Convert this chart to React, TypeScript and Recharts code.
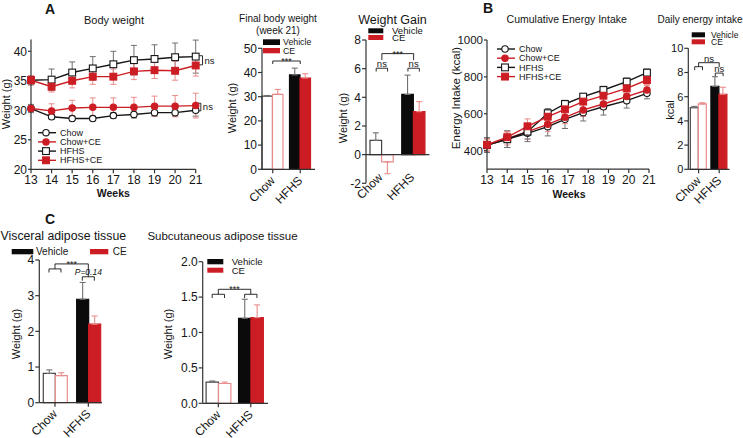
import React from 'react';
import {
  LineChart, Line, BarChart, Bar, Cell, XAxis, YAxis, ErrorBar, ReferenceLine, Legend,
} from 'recharts';

const W = 743;
const H = 438;
const YW = 30;
const FONT = '"Liberation Sans", Arial, Helvetica, sans-serif';
const INK = '#151515';
const AXIS = '#333';
const BLACK = '#0b0b0b';
const RED = '#cc1d24';
const PINK = '#ea8c8c';
const GREY = '#707070';

// ---- A: body weight over time ----
const weeks = [13, 14, 15, 16, 17, 18, 19, 20, 21];
const bwChow = [30.3, 28.9, 28.6, 28.6, 29.1, 29.3, 29.6, 29.6, 30.0];
const bwChowErr = [0.7, 0.4, 0.4, 0.4, 0.5, 0.6, 0.6, 0.6, 1.0];
const bwChowCE = [30.3, 29.9, 30.4, 30.5, 30.5, 30.5, 30.7, 30.7, 30.8];
const bwChowCEErr = [0.5, 1.2, 1.3, 1.6, 1.6, 1.7, 1.7, 1.8, 2.1];
const bwHfhs = [35.1, 35.2, 36.4, 37.1, 37.8, 38.5, 38.7, 39.0, 39.1];
const bwHfhsErr = [0.8, 1.8, 1.8, 2.0, 2.2, 2.5, 2.4, 2.4, 2.8];
const bwHfhsCE = [35.1, 34.0, 35.0, 35.7, 35.7, 36.6, 36.8, 36.7, 37.6];
const bwHfhsCEErr = [0.8, 0.9, 1.2, 1.3, 1.3, 1.4, 1.4, 1.6, 1.8];

// ---- B: cumulative energy intake ----
const eiWeeks = [13, 14, 15, 16, 16.85, 17.75, 18.75, 19.9, 20.9];
const eiChow = [430, 462, 494, 530, 570, 606, 638, 671, 711];
const eiChowErr = [40, 45, 45, 50, 50, 45, 45, 40, 30];
const eiChowCE = [430, 466, 503, 543, 581, 621, 653, 693, 729];
const eiChowCEErr = [35, 35, 40, 40, 35, 35, 30, 25, 25];
const eiHfhs = [430, 462, 503, 603, 653, 693, 729, 774, 823];
const eiHfhsErr = [40, 45, 40, 25, 20, 15, 20, 20, 20];
const eiHfhsCE = [432, 473, 532, 584, 624, 666, 698, 738, 783];
const eiHfhsCEErr = [30, 30, 40, 35, 30, 35, 35, 30, 25];

// ---- bar panels (Chow, HFHS) x (Vehicle, CE) ----
const groups = ['Chow', 'HFHS'];
const finalVeh = [30.2, 39.0];
const finalVehErr = [0.3, 2.8];
const finalCE = [31.0, 37.7];
const finalCEErr = [2.0, 1.8];
const gainVeh = [1.0, 4.2];
const gainVehErr = [0.52, 1.35];
const gainCE = [-0.5, 3.0];
const gainCEErr = [0.83, 0.7];
const dailyVeh = [5.1, 6.85];
const dailyVehErr = [0.1, 0.8];
const dailyCE = [5.4, 6.2];
const dailyCEErr = [0.1, 0.58];
const viscVeh = [0.82, 2.9];
const viscVehErr = [0.1, 0.47];
const viscCE = [0.76, 2.2];
const viscCEErr = [0.08, 0.23];
const subVeh = [0.3, 1.2];
const subVehErr = [0.015, 0.27];
const subCE = [0.28, 1.21];
const subCEErr = [0.02, 0.18];

const lineNames = ['Chow', 'Chow+CE', 'HFHS', 'HFHS+CE'];
const lineKeys = ['chow', 'chowCE', 'hfhs', 'hfhsCE'];
const lineColors = [INK, RED, INK, RED];
const errColors = [GREY, PINK, GREY, PINK];
const lineShapes = ['circle', 'circle', 'square', 'square'];
const lineOpen = [true, false, true, false];

const bwRows = weeks.map((w, i) => ({
  week: w,
  chow: bwChow[i], chowErr: bwChowErr[i],
  chowCE: bwChowCE[i], chowCEErr: bwChowCEErr[i],
  hfhs: bwHfhs[i], hfhsErr: bwHfhsErr[i],
  hfhsCE: bwHfhsCE[i], hfhsCEErr: bwHfhsCEErr[i],
}));

const eiRows = eiWeeks.map((w, i) => ({
  week: w,
  chow: eiChow[i], chowErr: eiChowErr[i],
  chowCE: eiChowCE[i], chowCEErr: eiChowCEErr[i],
  hfhs: eiHfhs[i], hfhsErr: eiHfhsErr[i],
  hfhsCE: eiHfhsCE[i], hfhsCEErr: eiHfhsCEErr[i],
}));

// one-sided error in the direction of the bar
const side = (v: number, e: number) => (v >= 0 ? [0, e] : [e, 0]);
const barRows = (veh: number[], vehErr: number[], ce: number[], ceErr: number[]) =>
  groups.map((g, i) => ({
    group: g,
    pos: i,
    veh: veh[i], vehErr: side(veh[i], vehErr[i]),
    ce: ce[i], ceErr: side(ce[i], ceErr[i]),
  }));

const place = (x0: number, y0: number, x1: number, y1: number, xH = 30) => ({
  top: y0, left: x0 - YW, right: W - x1, bottom: H - y1 - xH,
});

const abs: React.CSSProperties = { position: 'absolute', left: 0, top: 0 };

const markerShape = (shape: string, open: boolean, color: string, cx: number, cy: number, key?: any) => {
  const fill = open ? '#fff' : color;
  return shape === 'circle'
    ? <circle key={key} cx={cx} cy={cy} r={3.2} fill={fill} stroke={color} strokeWidth={1.1} />
    : <rect key={key} x={cx - 3.4} y={cy - 3.4} width={6.8} height={6.8} fill={fill} stroke={color} strokeWidth={1.1} />;
};

const dotFn = (i: number) => (p: any) => {
  if (p.cx == null || p.cy == null) return <g key={p.index} />;
  return markerShape(lineShapes[i], lineOpen[i], lineColors[i], p.cx, p.cy, p.index);
};

const lineLegend = (x: number, y: number) => () => (
  <svg width={W} height={H} style={{ display: 'block' }}>
    {lineNames.map((n, i) => {
      const cy = y + i * 9.2;
      return (
        <g key={n}>
          <line x1={x} x2={x + 18} y1={cy} y2={cy} stroke={lineColors[i]} strokeWidth={1.4} />
          {markerShape(lineShapes[i], lineOpen[i], lineColors[i], x + 8, cy)}
          <text x={x + 22} y={cy} dy="0.35em" fontSize={9} fill={INK}>{n}</text>
        </g>
      );
    })}
  </svg>
);

type LegItem = { x: number; y: number; w: number; h: number; fill: string; label: string; tx: number; ty: number };
const barLegend = (items: LegItem[], fs: number) => () => (
  <svg width={W} height={H} style={{ display: 'block' }}>
    {items.map((it) => (
      <g key={it.label}>
        <rect x={it.x} y={it.y} width={it.w} height={it.h} fill={it.fill} />
        <text x={it.tx} y={it.ty} dy="0.35em" fontSize={fs} fill={INK}>{it.label}</text>
      </g>
    ))}
  </svg>
);

const legendWrap: React.CSSProperties = { left: 0, top: 0, width: W, height: H, pointerEvents: 'none' };

const seg = (k: string, xa: number, ya: number, xb: number, yb: number, xAxisId: any, label?: any) => (
  <ReferenceLine
    key={k}
    xAxisId={xAxisId}
    segment={[{ x: xa, y: ya }, { x: xb, y: yb }]}
    stroke={INK}
    strokeWidth={0.9}
    ifOverflow="visible"
    label={label}
  />
);

const stars = { value: '***', position: 'top', offset: -3, fontSize: 9, fill: INK };
const ns = { value: 'ns', position: 'top', offset: 1, fontSize: 9.5, fill: INK };

const bracket = (k: string, xa: number, xb: number, y: number, yl: number, yr: number, label?: any) => [
  seg(k + 'h', xa, y, xb, y, 'n', label),
  seg(k + 'l', xa, y, xa, yl, 'n'),
  seg(k + 'r', xb, y, xb, yr, 'n'),
];

const sideBracket = (k: string, xa: number, xb: number, ya: number, yb: number) => [
  seg(k + 'a', xa, ya, xb, ya, 0),
  seg(k + 'b', xa, yb, xb, yb, 0),
  seg(k + 'v', xb, ya, xb, yb, 0, { value: 'ns', position: 'right', offset: 2, fontSize: 9.5, fill: INK }),
];

const slantTick = (dx: number, dy: number) => (p: any) => (
  <g transform={`translate(${p.x + dx},${p.y + dy}) rotate(-45)`}>
    <text textAnchor="end" fontSize={12} fill={INK}>{p.payload.value}</text>
  </g>
);

function LinePanel({ rows, box, xH, yDomain, yTicks, tickFont, legend, notes }: any) {
  const [x0, y0, x1, y1] = box;
  return (
    <div style={abs}>
      <LineChart width={W} height={H} data={rows} margin={place(x0, y0, x1, y1, xH)}>
        <XAxis dataKey="week" type="number" domain={[13, 21]} ticks={weeks} interval={0}
          stroke={AXIS} strokeWidth={1.2} tickSize={4} tick={{ fontSize: 12, fill: INK }} height={xH} />
        <YAxis type="number" domain={yDomain} ticks={yTicks} interval={0} width={YW}
          stroke={AXIS} strokeWidth={1.2} tickSize={3} tickMargin={1} tick={{ fontSize: tickFont, fill: INK }} />
        {lineKeys.map((k, i) => (
          <Line key={k} dataKey={k} stroke={lineColors[i]} strokeWidth={1.4} dot={dotFn(i)}
            activeDot={false} isAnimationActive={false}>
            <ErrorBar dataKey={k + 'Err'} width={3} stroke={errColors[i]} strokeWidth={1} direction="y" />
          </Line>
        ))}
        {notes}
        <Legend layout="horizontal" verticalAlign="middle" align="center" wrapperStyle={legendWrap} content={legend} />
      </LineChart>
    </div>
  );
}

function BarPanel({ rows, box, padding, domain, ticks, barSize, tickFont, tickFmt, zeroAxis, tickDx, tickDy, notes, legend }: any) {
  const [x0, y0, x1, y1] = box;
  return (
    <div style={abs}>
      <BarChart width={W} height={H} data={rows} margin={place(x0, y0, x1, y1)} barGap={0}>
        <XAxis dataKey="group" padding={padding} interval={0} stroke={AXIS} strokeWidth={1.2}
          axisLine={!zeroAxis} tickLine={!zeroAxis} tickSize={zeroAxis ? 0 : 4}
          tick={slantTick(tickDx, tickDy)} height={30} />
        <XAxis xAxisId="n" dataKey="pos" type="number" domain={[-0.5, 1.5]} padding={padding} hide allowDataOverflow />
        <YAxis type="number" domain={domain} ticks={ticks} interval={0} width={YW}
          stroke={AXIS} strokeWidth={1.2} tickSize={4} tickMargin={1}
          tick={{ fontSize: tickFont, fill: INK }} tickFormatter={tickFmt} />
        {zeroAxis && <ReferenceLine y={0} stroke={AXIS} strokeWidth={1.2} />}
        <Bar dataKey="veh" barSize={barSize} strokeWidth={1.2} isAnimationActive={false}>
          {rows.map((r: any, i: number) => (
            <Cell key={r.group} fill={i === 0 ? '#fff' : BLACK} stroke={i === 0 ? '#444' : BLACK} />
          ))}
          <ErrorBar dataKey="vehErr" width={3} stroke={GREY} strokeWidth={1.1} direction="y" />
        </Bar>
        <Bar dataKey="ce" barSize={barSize} strokeWidth={1.2} isAnimationActive={false}>
          {rows.map((r: any, i: number) => (
            <Cell key={r.group} fill={i === 0 ? '#fff' : RED} stroke={i === 0 ? PINK : RED} />
          ))}
          <ErrorBar dataKey="ceErr" width={3} stroke={PINK} strokeWidth={1.1} direction="y" />
        </Bar>
        {notes}
        <Legend layout="horizontal" verticalAlign="middle" align="center" wrapperStyle={legendWrap} content={legend} />
      </BarChart>
    </div>
  );
}

const vert = (x: number, y: number, text: string, fs = 11) => (
  <text transform={`translate(${x},${y}) rotate(-90)`} textAnchor="middle" dominantBaseline="central" fontSize={fs} fill={INK}>
    {text}
  </text>
);

export default function App() {
  return (
    <div style={{ position: 'absolute', left: 0, top: 0, width: W, height: H, background: '#fff', fontFamily: FONT }}>
      <LinePanel
        rows={bwRows}
        box={[31, 39.5, 195.7, 169.3]}
        xH={28}
        yDomain={[20, 42]}
        yTicks={[20, 25, 30, 35, 40]}
        tickFont={12}
        legend={lineLegend(38, 132.7)}
        notes={[
          ...sideBracket('bt', 21.15, 21.33, 39.25, 37.7),
          ...sideBracket('bb', 21.1, 21.25, 31.2, 29.9),
        ]}
      />
      <LinePanel
        rows={eiRows}
        box={[487, 40, 649, 169.1]}
        xH={29}
        yDomain={[300, 1000]}
        yTicks={[400, 600, 800, 1000]}
        tickFont={11.5}
        legend={lineLegend(497, 49)}
        notes={[]}
      />
      <BarPanel
        rows={barRows(finalVeh, finalVehErr, finalCE, finalCEErr)}
        box={[262, 48.3, 315, 169.3]}
        padding={{ left: -3, right: 1 }}
        domain={[0, 50]}
        ticks={[0, 10, 20, 30, 40, 50]}
        barSize={10.5}
        tickFont={12}
        tickDx={3}
        tickDy={6}
        notes={bracket('f', 0, 1, 44.75, 43.5, 43.5, stars)}
        legend={barLegend([
          { x: 263, y: 39.3, w: 17, h: 5.7, fill: BLACK, label: 'Vehicle', tx: 283, ty: 42.1 },
          { x: 263, y: 48, w: 17, h: 5.3, fill: RED, label: 'CE', tx: 283, ty: 50.6 },
        ], 8.8)}
      />
      <BarPanel
        rows={barRows(gainVeh, gainVehErr, gainCE, gainCEErr)}
        box={[366, 40, 429.5, 183.3]}
        padding={{ left: 0, right: 0 }}
        domain={[-2, 8]}
        ticks={[-2, 0, 2, 4, 6, 8]}
        barSize={11.6}
        tickFont={12}
        zeroAxis
        tickDx={1.5}
        tickDy={-7.3}
        notes={[
          ...bracket('go', 0, 1, 7.05, 6.6, 6.6, stars),
          ...bracket('gc', -0.18, 0.18, 6.03, 5.8, 5.8, ns),
          ...bracket('gh', 0.82, 1.18, 6.03, 5.8, 5.8, ns),
        ]}
        legend={barLegend([
          { x: 368.3, y: 28.3, w: 15, h: 5, fill: BLACK, label: 'Vehicle', tx: 392, ty: 30.8 },
          { x: 368.3, y: 35, w: 15, h: 5, fill: RED, label: 'CE', tx: 392, ty: 37.8 },
        ], 9.6)}
      />
      <BarPanel
        rows={barRows(dailyVeh, dailyVehErr, dailyCE, dailyCEErr)}
        box={[688.3, 48.3, 729.5, 169.3]}
        padding={{ left: 0, right: 0 }}
        domain={[0, 10]}
        ticks={[0, 2, 4, 6, 8, 10]}
        barSize={8}
        tickFont={11}
        tickDx={3}
        tickDy={6}
        notes={[
          ...bracket('do', 0, 1, 8.81, 8.48, 8.45, ns),
          ...bracket('dc', -0.19, 0.19, 8.48, 8.2, 8.2),
          ...bracket('dh', 0.81, 1.19, 7.95, 7.7, 7.7, ns),
        ]}
        legend={barLegend([
          { x: 691.7, y: 32.3, w: 13.3, h: 5, fill: BLACK, label: 'Vehicle', tx: 711, ty: 34.6 },
          { x: 691.7, y: 39.3, w: 13.3, h: 5, fill: RED, label: 'CE', tx: 711, ty: 42 },
        ], 8.5)}
      />
      <BarPanel
        rows={barRows(viscVeh, viscVehErr, viscCE, viscCEErr)}
        box={[39.3, 260, 102, 402.7]}
        padding={{ left: -1, right: -3 }}
        domain={[0, 4]}
        ticks={[0, 1, 2, 3, 4]}
        barSize={12}
        tickFont={12}
        tickDx={3}
        tickDy={6}
        notes={[
          ...bracket('vo', 0, 1, 3.89, 3.75, 3.53, stars),
          ...bracket('vc', -0.18, 0.18, 3.75, 3.65, 3.65),
          ...bracket('vh', 0.82, 1.18, 3.53, 3.42, 3.42,
            { value: 'P=0.14', position: 'top', offset: 1.5, fontSize: 8.5, fontStyle: 'italic', fill: INK }),
        ]}
        legend={barLegend([
          { x: 11.7, y: 249, w: 21.6, h: 5.3, fill: BLACK, label: 'Vehicle', tx: 36, ty: 251.7 },
          { x: 90, y: 249, w: 18.3, h: 5.3, fill: RED, label: 'CE', tx: 112.7, ty: 251.7 },
        ], 10)}
      />
      <BarPanel
        rows={barRows(subVeh, subVehErr, subCE, subCEErr)}
        box={[202.7, 261.7, 268, 403.3]}
        padding={{ left: -0.6, right: 1 }}
        domain={[0, 2]}
        ticks={[0, 0.5, 1, 1.5, 2]}
        tickFmt={(v: number) => v.toFixed(1)}
        barSize={12.4}
        tickFont={12}
        tickDx={3}
        tickDy={6}
        notes={[
          ...bracket('so', 0, 1, 1.61, 1.54, 1.54, stars),
          ...bracket('sc', -0.19, 0.19, 1.54, 1.487, 1.487),
          ...bracket('sh', 0.81, 1.19, 1.54, 1.487, 1.487),
        ]}
        legend={barLegend([
          { x: 207.3, y: 259, w: 16, h: 5.3, fill: BLACK, label: 'Vehicle', tx: 231.7, ty: 261.5 },
          { x: 207.3, y: 267.7, w: 16, h: 5, fill: RED, label: 'CE', tx: 231.7, ty: 270.7 },
        ], 9.6)}
      />
      <svg width={W} height={H} style={{ ...abs, pointerEvents: 'none' }}>
        <text x={45} y={13.5} fontSize={14} fontWeight="bold" fill={INK}>A</text>
        <text x={483} y={13.3} fontSize={14} fontWeight="bold" fill={INK}>B</text>
        <text x={45} y={224} fontSize={14} fontWeight="bold" fill={INK}>C</text>
        <text x={114} y={24} fontSize={11} textAnchor="middle" fill={INK}>Body weight</text>
        <text x={278} y={21.5} fontSize={10} textAnchor="middle" fill={INK}>Final body weight</text>
        <text x={278} y={33.5} fontSize={10} textAnchor="middle" fill={INK}>(week 21)</text>
        <text x={392.5} y={23.5} fontSize={12.5} textAnchor="middle" fill={INK}>Weight Gain</text>
        <text x={566.7} y={23} fontSize={10.5} textAnchor="middle" fill={INK}>Cumulative Energy Intake</text>
        <text x={700} y={22.5} fontSize={10} textAnchor="middle" fill={INK}>Daily energy intake</text>
        <text x={63.3} y={240} fontSize={12.3} textAnchor="middle" fill={INK}>Visceral adipose tissue</text>
        <text x={222.5} y={240} fontSize={11.5} textAnchor="middle" fill={INK}>Subcutaneous adipose tissue</text>
        <text x={113.3} y={197} fontSize={10.5} fontWeight="bold" textAnchor="middle" fill={INK}>Weeks</text>
        <text x={569} y={197.5} fontSize={10.5} fontWeight="bold" textAnchor="middle" fill={INK}>Weeks</text>
        {vert(6, 104, 'Weight (g)')}
        {vert(231.5, 108, 'Weight (g)')}
        {vert(342.5, 118, 'Weight (g)')}
        {vert(456, 98, 'Energy Intake (kcal)', 11.5)}
        {vert(670, 110, 'kcal')}
        {vert(16, 334, 'Weight (g)')}
        {vert(167.5, 334, 'Weight (g)')}
      </svg>
    </div>
  );
}
